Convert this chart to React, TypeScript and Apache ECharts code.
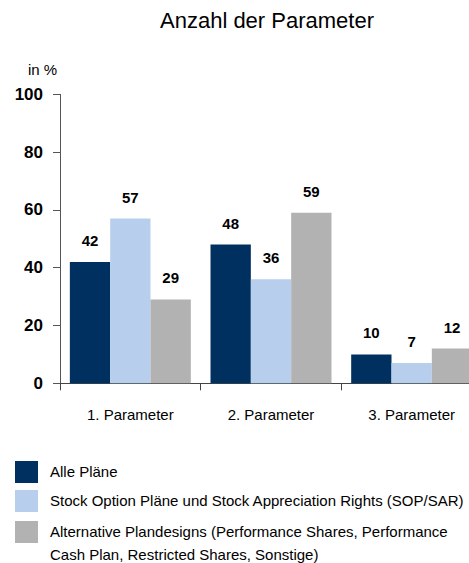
import React, { useEffect, useRef } from "react";
import * as echarts from "echarts";

const categories = ["1. Parameter", "2. Parameter", "3. Parameter"];
const seriesNames = [
  "Alle Pläne",
  "Stock Option Pläne und Stock Appreciation Rights (SOP/SAR)",
  "Alternative Plandesigns (Performance Shares, Performance\nCash Plan, Restricted Shares, Sonstige)",
];
const alleValues = [42, 48, 10];
const sopValues = [57, 36, 7];
const altValues = [29, 59, 12];
const colors = ["#003060", "#B8CEED", "#B2B2B2"];
const yTicks = [0, 20, 40, 60, 80, 100];

const SANS = "'Liberation Sans', Arial, sans-serif";

export default function App() {
  const ref = useRef<HTMLDivElement>(null);
  useEffect(() => {
    if (!ref.current) return;
    const chart = echarts.init(ref.current, undefined, { renderer: "svg" });
    const values = [alleValues, sopValues, altValues];
    const legendTops = [461, 490, 521];
    const legendGraphics: any[] = [];
    seriesNames.forEach((name, i) => {
      legendGraphics.push({
        type: "rect",
        left: 15,
        top: legendTops[i],
        shape: { width: 23, height: 22 },
        style: { fill: colors[i] },
      });
      legendGraphics.push({
        type: "text",
        left: 50,
        top: legendTops[i] - 0.5,
        style: {
          text: name,
          fill: "#000",
          font: `15px ${SANS}`,
          lineHeight: 22.5,
        },
      });
    });
    chart.setOption({
      animation: false,
      title: {
        text: "Anzahl der Parameter",
        left: 155,
        top: 4,
        textStyle: { fontFamily: SANS, fontSize: 22, fontWeight: "normal", color: "#000" },
      },
      grid: {
        left: 60,
        width: 422,
        top: 94.3,
        height: 289,
        containLabel: false,
        outerBoundsMode: "none",
      },
      xAxis: {
        type: "category",
        data: categories,
        axisLine: { lineStyle: { color: "#444", width: 1 } },
        axisTick: { show: true, length: 7, alignWithLabel: false, lineStyle: { color: "#444" } },
        axisLabel: { fontFamily: SANS, fontSize: 15, color: "#000", margin: 24 },
      },
      yAxis: {
        type: "value",
        min: yTicks[0],
        max: yTicks[yTicks.length - 1],
        interval: 20,
        axisLine: { show: true, lineStyle: { color: "#555", width: 1 } },
        axisTick: { show: true, length: 7, lineStyle: { color: "#555" } },
        splitLine: { show: false },
        axisLabel: { fontFamily: SANS, fontSize: 17, fontWeight: "bold", color: "#000", margin: 17 },
      },
      graphic: [
        {
          type: "text",
          left: 28,
          top: 62,
          style: { text: "in %", fill: "#000", font: `15px ${SANS}` },
        },
        ...legendGraphics,
      ],
      series: seriesNames.map((name, i) => ({
        name,
        type: "bar",
        data: values[i],
        barGap: "0%",
        barCategoryGap: "14%",
        itemStyle: { color: colors[i] },
        label: {
          show: true,
          position: "top",
          distance: 14,
          fontFamily: SANS,
          fontSize: 15,
          fontWeight: "bold",
          color: "#000",
        },
      })),
    });
    return () => chart.dispose();
  }, []);
  return <div ref={ref} style={{ width: 469, height: 563, position: "absolute", left: 0, top: 0 }} />;
}
